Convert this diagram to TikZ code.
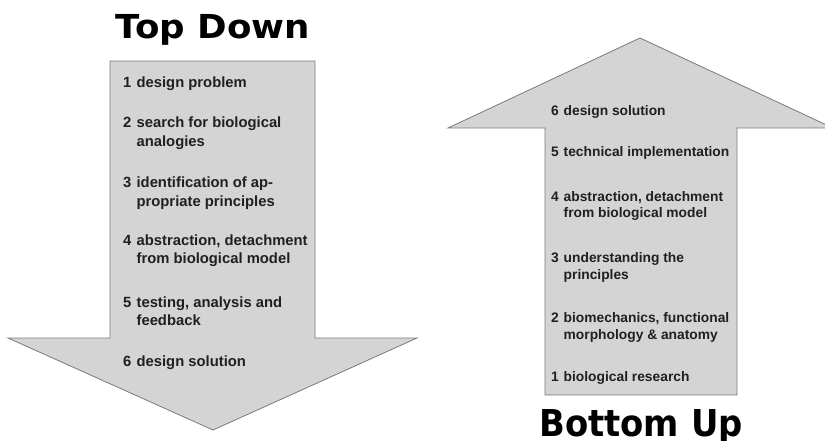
\documentclass[tikz,border=0pt]{standalone}
\usepackage{fontspec}
\setmainfont{Liberation Sans}
\newfontfamily\titlefont{DejaVu Sans}
\definecolor{arrowfill}{HTML}{D4D4D4}
\definecolor{arrowline}{HTML}{7A7A7A}
\definecolor{txt}{HTML}{202020}
\begin{document}
\begin{tikzpicture}[x=1pt,y=-1pt,
  bigarrow/.style={fill=arrowfill,draw=arrowline,line width=0.8pt,line join=miter},
  heading/.style={anchor=base,inner sep=0pt,font=\titlefont\bfseries,text=black},
  litem/.style={anchor=base west,inner sep=0pt,text=txt,font=\bfseries\fontsize{14.8pt}{18.5pt}\selectfont},
  ritem/.style={anchor=base west,inner sep=0pt,text=txt,font=\bfseries\fontsize{13.8pt}{17pt}\selectfont}]
\clip (0,0) rectangle (825,441);
\fill[white] (0,0) rectangle (825,441);
% Top down arrow
\draw[bigarrow] (110,61) -- (315,61) -- (315,338) -- (417,338) -- (213,430) -- (8,338) -- (110,338) -- cycle;
% Bottom up arrow
\draw[bigarrow] (545,395) -- (545,128) -- (448,128) -- (640,38) -- (833,128) -- (737,128) -- (737,395) -- cycle;
% titles
\node[heading] (td) at (213,39) {\scalebox{1.08}[1]{\fontsize{33pt}{40pt}\selectfont Top Down}};
\node[heading] (bu) at (641,436) {\scalebox{0.915}[1]{\fontsize{37pt}{44pt}\selectfont Bottom Up}};
% items
\newcommand{\itm}[2]{\begin{tabular}[t]{@{}l@{\hspace{0.35em}}l@{}}#1 & #2\end{tabular}}
\node[litem] (l1) at (123,88) {\itm{1}{design problem}};
\node[litem] (l2) at (123,128) {\itm{2}{search for biological\\ & analogies}};
\node[litem] (l3) at (123,188) {\itm{3}{identification of ap-\\ & propriate principles}};
\node[litem] (l4) at (123,245) {\itm{4}{abstraction, detachment\\ & from biological model}};
\node[litem] (l5) at (123,307) {\itm{5}{testing, analysis and\\ & feedback}};
\node[litem] (l6) at (123,366) {\itm{6}{design solution}};
\node[ritem] (r6) at (551,116) {\itm{6}{design solution}};
\node[ritem] (r5) at (551,157) {\itm{5}{technical implementation}};
\node[ritem] (r4) at (551,201) {\itm{4}{abstraction, detachment\\ & from biological model}};
\node[ritem] (r3) at (551,262) {\itm{3}{understanding the\\ & principles}};
\node[ritem] (r2) at (551,322) {\itm{2}{biomechanics, functional\\ & morphology \& anatomy}};
\node[ritem] (r1) at (551,381) {\itm{1}{biological research}};
\end{tikzpicture}
\end{document}
